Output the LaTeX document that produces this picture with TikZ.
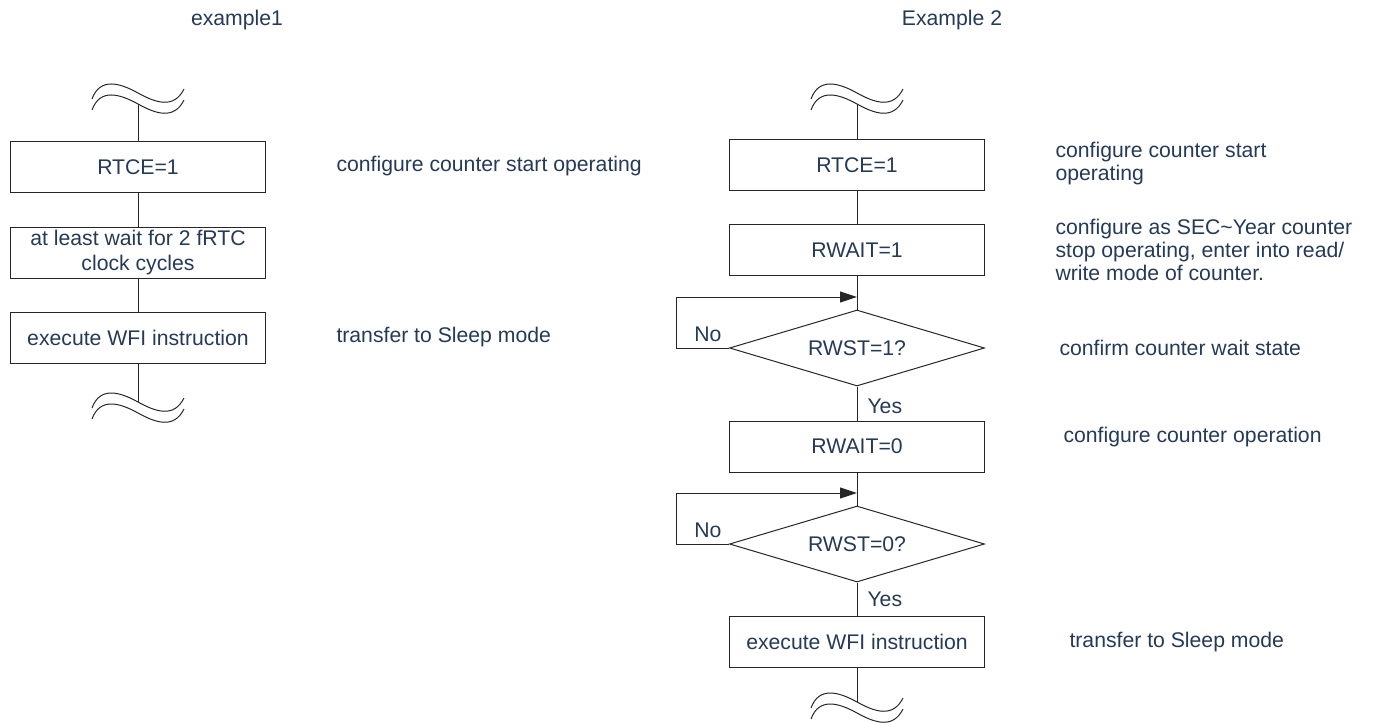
\documentclass[tikz,border=0pt]{standalone}
\usepackage{fontspec}
\setmainfont{Liberation Sans}
\usetikzlibrary{positioning,shapes.geometric,arrows.meta}
\definecolor{txtblue}{RGB}{36,58,86}

\begin{document}
\begin{tikzpicture}[x=0.5pt,y=-0.5pt,line width=0.5pt,color=black!85,
        >={Triangle[length=8.5pt,width=5.5pt]},
        every node/.style={text=txtblue,font=\fontsize{10.6}{12.5}\selectfont},
        stepbox/.style={draw,minimum width=127.5pt,minimum height=25.5pt,inner sep=0pt,align=center},
        check/.style={draw,diamond,aspect=3.36,minimum width=127.5pt,minimum height=38pt,inner sep=0pt},
        note/.style={anchor=west,align=left,inner sep=0pt,font=\fontsize{10.6}{11.5}\selectfont},
        yesno/.style={inner sep=0pt},
        brk/.pic={
            \draw (-46,0.5) .. controls (-38,-21.5) and (-18,-15.5) .. (0,-5.5) .. controls (18,4.5) and (36,10.5) .. (46,-9.5);
            \draw (-46,11.5) .. controls (-38,-10.5) and (-18,-4.5) .. (0,5.5) .. controls (18,15.5) and (36,21.5) .. (46,1.5);
        }]
        \useasboundingbox (0,0) rectangle (1374,722);

        \node (t1) at (237,20) {example1};
        \node (t2) at (952,20) {Example 2};

        % example 1
        \pic at (138,98.5) {brk};
        \coordinate (a0) at (138,104);
        \node[stepbox] (a1) at (138,167) {RTCE=1};
        \node[stepbox] (a2) at (138,252.5) {at least wait for 2 fRTC\\clock cycles};
        \node[stepbox] (a3) at (138,337.5) {execute WFI instruction};
        \coordinate (a4) at (138,402);
        \pic at (138,407.5) {brk};
        \draw (a0) -- (a1) -- (a2) -- (a3) -- (a4);

        \node[note] (n1) at (336,166) {configure counter start operating};
        \node[note] (n2) at (336,337) {transfer to Sleep mode};

        % example 2
        \pic at (857,98.5) {brk};
        \coordinate (b0) at (857,104);
        \node[stepbox] (b1) at (857,165) {RTCE=1};
        \node[stepbox] (b2) at (857,250) {RWAIT=1};
        \coordinate (j1) at (857,297);
        \node[check] (d1) at (857,348) {RWST=1?};
        \node[stepbox] (b3) at (857,446.5) {RWAIT=0};
        \coordinate (j2) at (857,493);
        \node[check] (d2) at (857,544) {RWST=0?};
        \node[stepbox] (b4) at (857,642) {execute WFI instruction};
        \coordinate (b5) at (857,702);
        \pic at (857,707.5) {brk};

        \draw (b0) -- (b1) -- (b2) -- (d1) -- (b3) -- (d2) -- (b4) -- (b5);
        \draw[->] (d1.west) -- ++(-53,0) |- (j1);
        \draw[->] (d2.west) -- ++(-53,0) |- (j2);

        \node[yesno,above left=3pt and 3.5pt] (no1) at (d1.west) {No};
        \node[yesno,above right=3pt and 5pt] (yes1) at (b3.north) {Yes};
        \node[yesno,above left=3pt and 3.5pt] (no2) at (d2.west) {No};
        \node[yesno,above right=4.5pt and 5pt] (yes2) at (b4.north) {Yes};

        \node[note] (m1) at (1055,163.5) {configure counter start\\operating};
        \node[note] (m2) at (1055,250) {configure as SEC\textasciitilde Year counter\\stop operating, enter into read/\\write mode of counter.};
        \node[note] (m3) at (1059,348) {confirm counter wait state};
        \node[note] (m4) at (1063,437) {configure counter operation};
        \node[note] (m5) at (1069,642) {transfer to Sleep mode};
    \end{tikzpicture}
\end{document}
